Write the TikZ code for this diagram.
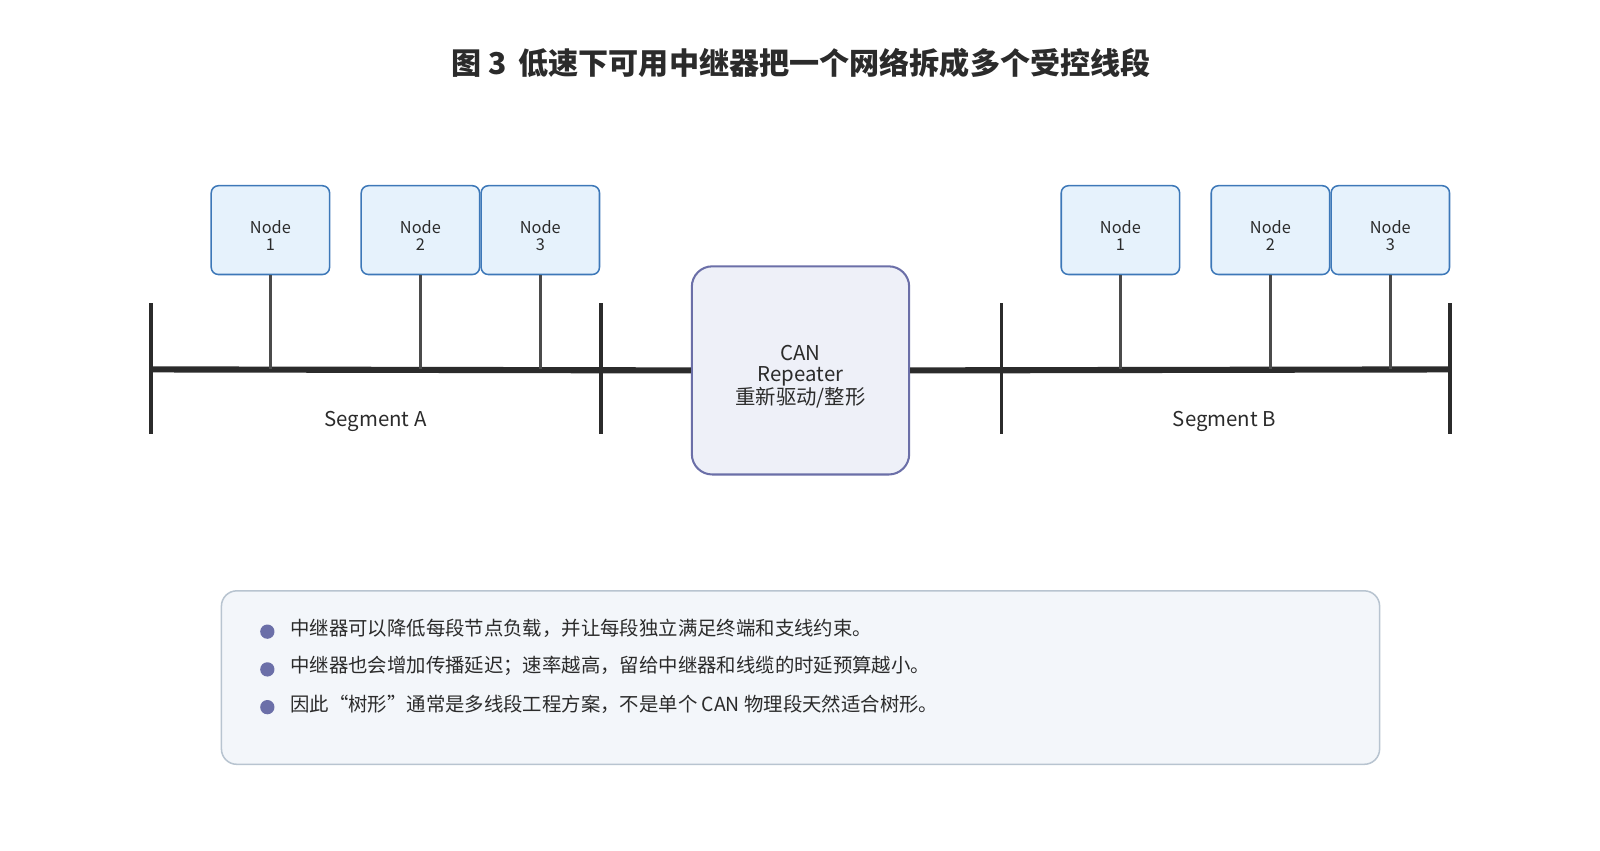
\documentclass[tikz,border=0pt]{standalone}
\usepackage{fontspec}
\setmainfont{Noto Sans CJK SC}
\definecolor{nfill}{HTML}{E6F2FC}
\definecolor{nline}{HTML}{3D78B8}
\definecolor{rfill}{HTML}{EEF0F8}
\definecolor{rline}{HTML}{6B6FA8}
\definecolor{bfill}{HTML}{F3F6FA}
\definecolor{bline}{HTML}{B8C4D0}
\definecolor{ink}{HTML}{2B2B2B}
\begin{document}
\begin{tikzpicture}[x=1pt,y=-1pt,
 nodebox/.style={draw=nline,fill=nfill,line width=1.5pt,rounded corners=7pt,minimum width=116pt,minimum height=87pt},
 nodetext/.style={align=center,font=\fontsize{16}{17}\selectfont,text=ink},
 bus/.style={line width=6pt,draw=ink},
 tick/.style={line width=3pt,draw=ink},
 stub/.style={line width=2.5pt,draw=ink!85},
 bul/.style={circle,fill=rline,inner sep=0pt,minimum size=14pt},
 note/.style={anchor=west,font=\fontsize{19}{20}\selectfont,text=ink}]
\useasboundingbox (0,0) rectangle (1568,833);
\node[font=\fontsize{29.5}{31}\selectfont\bfseries,text=ink] (title) at (785,62) {图 3\, 低速下可用中继器把一个网络拆成多个受控线段};
% nodes
\foreach \n/\x/\t in {a1/265/1,a2/412/2,a3/529.5/3,b1/1098/1,b2/1245/2,b3/1362.5/3}{
  \node[nodebox] (\n) at (\x,225.5) {};
  \node[nodetext] (\n t) at (\x,231) {Node\\\t};
}
\node[draw=rline,fill=rfill,line width=2pt,rounded corners=20pt,minimum width=213pt,minimum height=204pt] (rep) at (784.5,363) {};
\node[align=center,font=\fontsize{20}{21}\selectfont,text=ink] (rept) at (784.5,369) {CAN\\Repeater\\重新驱动/整形};
% bus
\coordinate (l0) at (148,362); \coordinate (l1) at (589,362);
\coordinate (r0) at (981,362); \coordinate (r1) at (1421,362);
\draw[bus] (l0) -- (rep.west);
\draw[bus] (rep.east) -- (r1);
\foreach \p in {l0,l1,r0,r1}{\draw[tick] ([yshift=-63pt]\p) -- ([yshift=65pt]\p);}
\foreach \n in {a1,a2,a3,b1,b2,b3}{\draw[stub] (\n.south) -- (\n.south |- l0);}
\node[font=\fontsize{20}{21}\selectfont,text=ink] (sa) at (368,413) {Segment A};
\node[font=\fontsize{20}{21}\selectfont,text=ink] (sb) at (1200,413) {Segment B};
% notes
\node[draw=bline,fill=bfill,line width=1.5pt,rounded corners=15pt,minimum width=1135pt,minimum height=170pt] (box) at (784.5,664) {};
\node[bul] (u1) at (262,619) {}; \node[bul] (u2) at (262,656) {}; \node[bul] (u3) at (262,693) {};
\node[note] (t1) at (281,616) {中继器可以降低每段节点负载，并让每段独立满足终端和支线约束。};
\node[note] (t2) at (281,653) {中继器也会增加传播延迟；速率越高，留给中继器和线缆的时延预算越小。};
\node[note] (t3) at (281,690) {因此“树形”通常是多线段工程方案，不是单个 CAN 物理段天然适合树形。};
\end{tikzpicture}
\end{document}
